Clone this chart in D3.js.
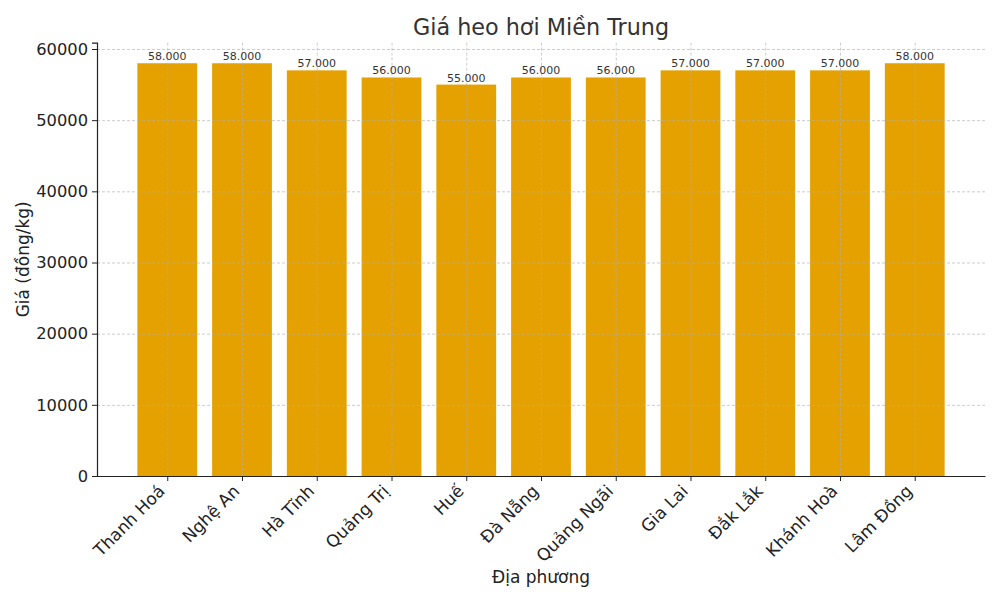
<!DOCTYPE html>
<html>
<head>
<meta charset="utf-8">
<script src="https://cdn.jsdelivr.net/npm/d3@7"></script>
<style>
  body { margin: 0; background: #fff; }
  svg { font-family: "DejaVu Sans", sans-serif; }
  .grid line { stroke: #b0b0b0; stroke-dasharray: 3,2; stroke-width: 0.7; opacity: 0.9; }
  .grid path { display: none; }
</style>
</head>
<body>
<svg id="chart"></svg>
<script>
// Data
const provinces = ["Thanh Hoá", "Nghệ An", "Hà Tĩnh", "Quảng Trị", "Huế", "Đà Nẵng",
  "Quảng Ngãi", "Gia Lai", "Đắk Lắk", "Khánh Hoà", "Lâm Đồng"];
const prices = [58000, 58000, 57000, 56000, 55000, 56000, 56000, 57000, 57000, 57000, 58000];
const yTicks = [0, 10000, 20000, 30000, 40000, 50000, 60000];

const width = 1000, height = 600;
const margin = { top: 42.6, right: 15, bottom: 124, left: 97 };
const iw = width - margin.left - margin.right;
const ih = height - margin.top - margin.bottom;

const svg = d3.select("#chart").attr("width", width).attr("height", height);
const g = svg.append("g").attr("transform", `translate(${margin.left},${margin.top})`);

// x like matplotlib: positions 0..n-1, bar width 0.8, 5% margins
const n = provinces.length;
const pad = 0.05 * (n - 0.2);
const x = d3.scaleLinear().domain([-0.4 - pad, n - 0.6 + pad]).range([0, iw]);
const y = d3.scaleLinear().domain([0, 58000 * 1.05]).range([ih, 0]);
const unit = x(1) - x(0);

// Bars
g.selectAll(".bar")
  .data(prices)
  .enter()
  .append("rect")
  .attr("class", "bar")
  .attr("x", (d, i) => x(i - 0.4))
  .attr("width", unit * 0.8)
  .attr("y", d => y(d))
  .attr("height", d => ih - y(d))
  .attr("fill", "#e5a100");

// Grid on top of bars
g.append("g").attr("class", "grid")
  .call(d3.axisLeft(y).tickValues(yTicks).tickSize(-iw).tickFormat(""));
g.append("g").attr("class", "grid")
  .call(d3.axisBottom(x).tickValues(d3.range(n)).tickSize(ih).tickFormat(""));

// Value labels
g.selectAll(".val")
  .data(prices)
  .enter()
  .append("text")
  .attr("x", (d, i) => x(i))
  .attr("y", d => y(d) - 3)
  .attr("text-anchor", "middle")
  .attr("font-size", 11)
  .attr("fill", "#333")
  .text(d => d3.format(",")(d).replace(/,/g, "."));

// Y axis
const yAxis = g.append("g")
  .call(d3.axisLeft(y).tickValues(yTicks).tickSize(5).tickPadding(4).tickFormat(d3.format("d")));
yAxis.selectAll("text").attr("font-size", 16.3).attr("fill", "#222").attr("font-family", "DejaVu Sans");
yAxis.select(".domain").attr("stroke", "#222").attr("stroke-width", 1.2);
yAxis.selectAll(".tick line").attr("stroke", "#222");

// X axis
const xAxis = g.append("g")
  .attr("transform", `translate(0,${ih})`)
  .call(d3.axisBottom(x).tickValues(d3.range(n)).tickSize(5).tickSizeOuter(0).tickFormat(i => provinces[i]));
xAxis.select(".domain").attr("stroke", "#222").attr("stroke-width", 1.2);
xAxis.selectAll(".tick line").attr("stroke", "#222");
xAxis.selectAll("text")
  .attr("font-size", 17)
  .attr("fill", "#222")
  .attr("font-family", "DejaVu Sans")
  .attr("text-anchor", "end")
  .attr("dy", "0.35em")
  .attr("y", 0)
  .attr("transform", "translate(-6,12) rotate(-45)");

// Title and axis labels
svg.append("text")
  .attr("x", margin.left + iw / 2)
  .attr("y", 35)
  .attr("text-anchor", "middle")
  .attr("font-size", 22.3)
  .attr("fill", "#333")
  .text("Giá heo hơi Miền Trung");

svg.append("text")
  .attr("x", margin.left + iw / 2)
  .attr("y", 583)
  .attr("text-anchor", "middle")
  .attr("font-size", 17)
  .attr("fill", "#222")
  .text("Địa phương");

svg.append("text")
  .attr("transform", `translate(29,${margin.top + ih / 2}) rotate(-90)`)
  .attr("text-anchor", "middle")
  .attr("font-size", 17)
  .attr("fill", "#222")
  .text("Giá (đồng/kg)");
</script>
</body>
</html>
